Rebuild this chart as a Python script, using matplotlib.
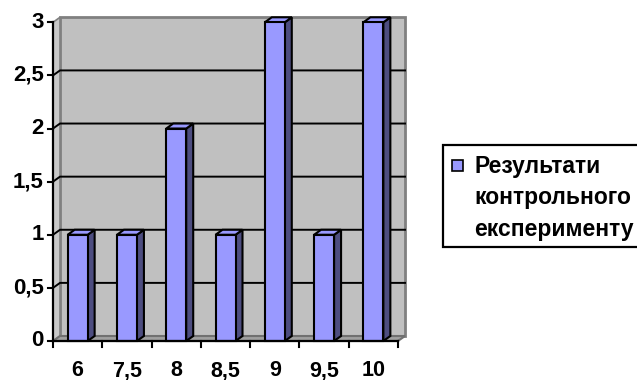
import matplotlib.pyplot as plt
from matplotlib.patches import Polygon, Rectangle

categories = ['6', '7,5', '8', '8,5', '9', '9,5', '10']
counts = [1, 1, 2, 1, 3, 1, 3]
y_ticks = [0, 0.5, 1, 1.5, 2, 2.5, 3]
y_labels = ['0', '0,5', '1', '1,5', '2', '2,5', '3']
legend_lines = ['Результати', 'контрольного', 'експерименту']

plt.rcParams['font.family'] = ['Liberation Sans', 'DejaVu Sans']
plt.rcParams['font.weight'] = 'bold'

W, H = 637, 380
fig = plt.figure(figsize=(W / 100, H / 100), dpi=100)
fig.patch.set_facecolor('white')

n = len(categories)
ymax = 3
# plot box in pixels: left/right of the front axis, y of 0 and of ymax
x_left, x_right, y_zero, y_top = 53, 398, 341, 22.3
ax = fig.add_axes([x_left / W, (H - y_zero) / H,
                   (x_right - x_left) / W, (y_zero - y_top) / H])
ax.set_xlim(0, n)
ax.set_ylim(0, ymax)
ax.axis('off')

px_x = n / (x_right - x_left)       # data units per pixel
px_y = ymax / (y_zero - y_top)
ddx, ddy = 7 * px_x, 5 * px_y       # depth of the 3d box

wall_c, side_c, floor_c, border_c = '#C0C0C0', '#C8C8C8', '#A0A0A0', '#808080'
bar_c, bar_side_c = '#9999FF', '#4D4D80'

# back wall, left wall and floor
ax.add_patch(Rectangle((ddx, ddy), n, ymax, fc=wall_c, ec=border_c, lw=2,
                       zorder=1, clip_on=False))
ax.add_patch(Polygon([(0, 0), (ddx, ddy), (ddx, ymax + ddy), (0, ymax)],
                     fc=side_c, ec=border_c, lw=1.2, zorder=1, clip_on=False))
ax.add_patch(Polygon([(0, 0), (n, 0), (n + ddx, ddy), (ddx, ddy)],
                     fc=floor_c, ec='#707070', lw=1.5, zorder=1, clip_on=False))

# gridlines run across the left wall and the back wall
for v in y_ticks[1:-1]:
    ax.plot([0, ddx, n + ddx], [v, v + ddy, v + ddy], color='black', lw=1.4,
            zorder=2, clip_on=False)

# bars
w = 20 * px_x
for i, v in enumerate(counts):
    x0 = i + 0.5 - w / 2
    ax.add_patch(Polygon([(x0 + w, 0), (x0 + w + ddx, ddy),
                          (x0 + w + ddx, v + ddy), (x0 + w, v)],
                         fc=bar_side_c, ec='black', lw=1.5, zorder=4,
                         clip_on=False))
    ax.add_patch(Polygon([(x0, v), (x0 + ddx, v + ddy),
                          (x0 + w + ddx, v + ddy), (x0 + w, v)],
                         fc=bar_c, ec='black', lw=1.5, zorder=4, clip_on=False))
    ax.add_patch(Rectangle((x0, 0), w, v, fc=bar_c, ec='black', lw=1.5,
                           zorder=5, clip_on=False))

# axes lines and ticks
ax.plot([0, 0], [0, ymax], color='black', lw=1.6, zorder=6, clip_on=False)
ax.plot([0, n], [0, 0], color='black', lw=1.6, zorder=6, clip_on=False)
for v, lab in zip(y_ticks, y_labels):
    ax.plot([-5 * px_x, 0], [v, v], color='black', lw=1.5, zorder=6,
            clip_on=False)
    ax.text(-9 * px_x, v, lab, ha='right', va='center', fontsize=16,
            fontweight='bold')
for i in range(n + 1):
    ax.plot([i, i], [0, -6 * px_y], color='black', lw=1.5, zorder=6,
            clip_on=False)
for i, lab in enumerate(categories):
    ax.text(i + 0.5, -35 * px_y, lab, ha='center', va='baseline',
            fontsize=15.5, fontweight='bold')

# legend
fig.add_artist(Rectangle((443 / W, 1 - 247 / H), 220 / W, 102 / H,
                         transform=fig.transFigure, fc='white', ec='black',
                         lw=1.6))
fig.add_artist(Rectangle((452 / W, 1 - 171 / H), 11 / W, 11 / H,
                         transform=fig.transFigure, fc=bar_c, ec='black',
                         lw=1.2))
for k, line in enumerate(legend_lines):
    fig.text(474 / W, 1 - (173 + 31.5 * k) / H, line, ha='left',
             va='baseline', fontsize=16.5, fontweight='bold')

fig.savefig('out.png', dpi=100)
